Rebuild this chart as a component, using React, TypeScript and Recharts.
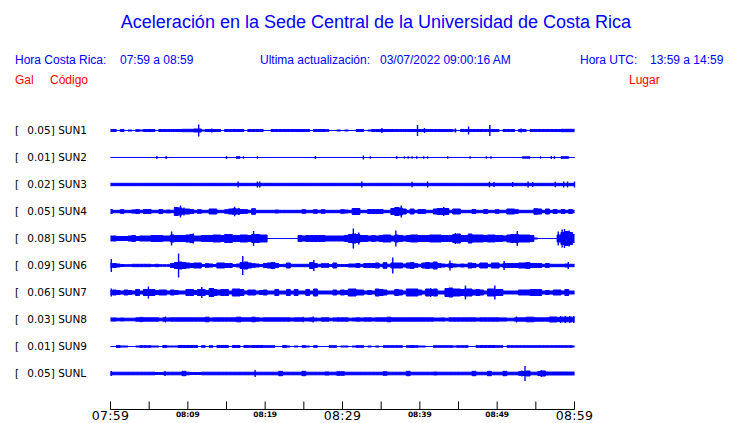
import React from 'react';
import { ComposedChart, Area, Scatter, ErrorBar, XAxis, YAxis } from 'recharts';

const CODES = ['SUN1', 'SUN2', 'SUN3', 'SUN4', 'SUN5', 'SUN6', 'SUN7', 'SUN8', 'SUN9', 'SUNL'];
const GAINS = ['0.05', '0.01', '0.02', '0.05', '0.08', '0.09', '0.06', '0.03', '0.01', '0.05'];
const PLACES = ['CIMAR', 'Ingenieria P01', 'Ingenieria P06', 'EBCI', 'Rectoria', 'Agroalimentarias', 'Archivo', 'Electrica P06', 'Electrica P01', 'LANAMME-CTT'];
const TICK_MINUTES = [0, 5, 10, 15, 20, 25, 30, 35, 40, 45, 50, 55, 60];
const LABELED_MINUTES = [0, 10, 20, 30, 40, 50, 60];
const TICK_LABELS = ['07:59', '08:09', '08:19', '08:29', '08:39', '08:49', '08:59'];
const MAJOR_LABELS = ['07:59', '08:29', '08:59'];
const SAMPLE_MIN = 0.5;

// half-amplitude envelopes (pixels) every 0.5 min
const SUN1 = [1,1,0,1,0,0.5,0,0.8,0.5,1, 1,1,0,1,1,1,1,1,1,1.2, 1.2,1.2,1.5,1.5,0.5,1,1,1,1,0, 1,1,1,1,1,0,1,1,1,1, 0,0,1,1,1,1,1,1,1,1, 1,1,0,1,1,1,0.8,0,0,0.5, 0,0.5,0,0,1,1,0,0.5,1,1, 1,1,1,1,1,1,1,1,1,1, 1,1,1,1,1,1,1,1,1,0.5, 0,1,1,1,1,1,1,1,1,1, 1,0,1,1,1,0,1,1,0,1, 1,1,1,1,1,1,1,1.2,1.2,1.2,1.2];
const SUN2 = [0,0,0,0,0,0,0,0,0,0, 0,0,0,0,0,0,0,0,0,0, 0,0,0,0,0,0,0,0,0,0, 0,0,0,0.8,0,0,0,0,0,0, 0,0,0,0,0,0,0,0,0,0, 0,0,0,0,0,0,0,0,0,0, 0,0,0,0,0,0,0,0,0,0, 0,0,0,0,0,0,0,0,0,0, 0,0,0,0,0,0,0,0,0,0, 0,0,0,0,0,0,0,0,0,0, 0,0,0,0,0,0,0,0.7,0.7,0, 0,0,0,0,0,0,0,0.8,0.8,0,0];
const SUN3 = [1.2,1.2,1.2,1.2,1.2,1.2,1.2,1.2,1.2,1.2, 1.2,1.2,1.2,1.2,1.2,1.2,1.2,1.2,1.2,1.2, 1.2,1.2,1.2,1.2,1.2,1.2,1.2,1.2,1.2,1.2, 1.2,1.2,1.2,1.2,1.2,1.2,1.2,1.2,1.2,1.2, 1.2,1.2,1.2,1.2,1.2,1.2,1.2,1.2,1.2,1.2, 1.2,1.2,1.2,1.2,1.2,1.2,1.2,1.2,1.2,1.2, 1.2,1.2,1.2,1.2,1.2,1.2,1.2,1.2,1.2,1.2, 1.2,1.2,1.2,1.2,1.2,1.2,1.2,1.2,1.2,1.2, 1.2,1.2,1.2,1.2,1.2,1.2,1.2,1.2,1.2,1.2, 1.2,1.2,1.2,1.2,1.2,1.2,1.2,1.2,1.2,1.2, 1.2,1.2,1.2,1.2,1.2,1.2,1.2,1.2,1.2,1.2, 1.2,1.2,1.2,1.2,1.2,1.2,1.2,1.2,1.2,1.2,1.2];
const SUN4 = [2,1.2,1.2,1.8,1.2,1.2,1.6,2,1.2,2, 2,1.2,1.2,2,1.2,1.5,1.2,4,3.5,2.5, 2.5,2,1.2,1.8,1.2,1.2,2.5,2.5,1.2,1.2, 1.8,2.5,2.8,2.5,2,1.8,1.2,2.8,1.2,1.2, 1.2,1.2,1.2,1.5,1.2,1.2,1.2,1.2,1.2,1.2, 1.8,1.2,1.2,1.8,1.2,1.8,1.2,1.2,1.2,1.2, 1.8,1.5,1.2,3,3,1.2,1.2,2,2,2, 2,1.2,1.2,3,4,3.5,2.5,1.2,2.5,1.2, 2,2,1.2,1.2,2.5,3,3,3,1.2,2.5, 2.5,1.2,1.2,1.2,2,1.2,1.2,2,1.2,1.2, 1.8,1.2,1.2,2.5,2.5,1.8,1.2,1.2,1.2,1.2, 2.8,2.5,1.2,2.5,1.2,2,1.2,2,1.2,2,1.2];
const SUN5 = [2.5,2.5,2,2,2,2.5,3,2,2.5,2.5, 2.5,3,3,3,2.5,2.5,3.5,3,3,3, 3.5,4,2.5,2.5,3,3,3,3.5,3.5,3, 4,4,3,3,3.5,3.5,3,4,4,3.5, 3.5,0,0,0,0,0,0,0,0,3, 2.5,3,3,3,3,3,2.5,2.5,2.5,2.5, 2.5,3,4,4.5,4,3,3,2.5,3,2.5, 3,3.5,3.5,2.5,3.5,3,2.5,3,3.5,3.5, 3,3,3,3.5,3.5,3.5,3,3,3,4, 4.5,3,3,4.5,3.5,3.5,3.5,3,3.5,3.5, 3,3,2.5,3.5,4,4,3.5,3.5,3.5,3, 0.5,0,0,0,0,0,3.5,6,7,6,4];
const SUN6 = [2,2,1.5,1,0.8,0.8,1.2,1.2,1.2,1.2, 1.2,0.8,1.2,0.8,0.8,0.8,2,3,3.5,3, 2.5,2,2.5,2.5,1,1.8,1.5,1,2.5,2.5, 2,2,1,1.5,3,3.5,2.5,1.8,1.5,1, 2,2.5,3,2,1,1.2,2.5,1.2,1.2,1.2, 1.2,1.2,3,2,1.2,1.8,1.8,1,2.5,1, 1,1,1.5,1.5,2,1.2,2,2,2,2.5, 1.2,2.8,1.2,2.5,2.5,2.5,1.5,2.5,3,1.8, 1.2,2.5,3,2.5,3.5,2,1.5,1.2,2,1.5, 1.2,1.5,1.2,2.5,2,1.2,2.5,2.5,1.2,2.5, 2.5,1.2,2,2,2,2,2.5,2.5,3,2, 2,2,1.2,2,1.2,1.2,1.2,1.2,1.5,1.2,1.2];
const SUN7 = [2,2.5,2,1.5,2.5,2,1.5,3,1.5,3, 3,3,2,2.5,2.5,1.5,2.5,2,1.5,1.5, 3,3,2,3,3,2,4,3,2.5,3, 3,1.5,3.5,3.5,3,1.5,2.5,2.5,1.5,2, 2.5,1.5,1.5,3,1.5,1.5,3,1.5,3,1.5, 1.5,3,1.5,3.5,1.5,1.5,1.5,1.5,2.5,1.5, 2.5,2,3.5,3.5,2.5,2.5,1.5,2,1.5,3.5, 3,2.5,1.5,1.5,3,2.5,1.5,3.5,3.5,3.5, 2.5,1.5,3.5,3,3.5,1.5,1.5,4,4.5,3.5, 3.5,3,3.5,3.5,2.5,3,2.5,1.5,3.5,3.5, 3,3,1.5,1.5,1.5,1.5,2.5,2.5,2.5,3, 3,3,1.5,2,1.5,2.5,2.5,1.5,3,1.5,1.5];
const SUN8 = [1.6,1.6,1.3,1.5,1.3,1.3,1.3,1.7,2.1,1.7, 1.7,1.7,1.7,1.3,1.7,1.6,1.7,1.7,1.7,1.7, 1.7,1.7,1.7,1.7,1.7,2.3,1.5,1.7,1.7,1.7, 1.7,1.7,1.7,2.3,1.7,1.7,1.7,2.3,1.7,1.5, 1.7,1.7,1.7,1.7,1.7,1.7,1.7,1.5,1.7,1.7, 1.5,1.5,1.7,1.5,1.3,1.7,1.7,1.3,1.6,1.7, 1.7,1.7,1.3,1.5,1.7,1.5,1.7,1.7,1.5,1.7, 1.7,1.7,2.3,1.7,1.7,1.7,1.7,1.7,1.7,1.7, 1.7,1.7,1.7,1.7,1.5,1.5,1.6,1.3,1.7,1.7, 1.7,1.7,1.7,1.7,1.7,1.5,1.7,1.7,1.7,1.7, 1.7,1.6,1.6,1.3,1.3,1.7,1.7,1.7,2.3,2.3, 1.7,1.7,1.7,1.7,2.5,2.5,2.1,2.3,2.3,2.3,2.3];
const SUN9 = [0,0,1,0.5,0.5,0,0,0.5,0.8,0.8, 0.8,0.5,0.5,0,1,0.5,0.5,0.5,1,1, 1,1,1,0,0.8,0,0.8,0,1,1, 1,0,1,1,0,1,0.8,1,1,1, 0.8,0.8,0.8,0,0,1,0.5,0,0.5,0, 0.8,0.5,0,0.8,0,0,0,0.8,0.8,0, 0.5,0.5,0,0.5,0.8,0.8,0,0.5,0,0.5, 0,0.8,0.8,0.8,0.8,0.8,0,0.8,1,0.8, 0.5,0.5,0,0,0.8,0.8,0.8,0.8,0.8,0.5, 0.8,0.8,0.8,0,0,0.8,1,1,1,1, 0.8,0.8,0,0.8,0.8,0.8,0.8,0.8,0.8,0.8, 0.8,0.8,0.8,0.8,0.8,0.8,0.8,0.8,0.8,0.8,0.5];
const SUNL = [1.5,1.3,1.3,1.3,1.3,1.3,1.3,1.3,1.3,1.3, 1.3,1.3,1,1,1.3,1.3,1.3,1.3,1.3,2.2, 1.3,1,1,1,1.3,1.3,1.3,1.3,1.3,1.3, 1.3,1.3,1.3,1.3,1.3,1.3,1.3,1.3,1.3,1.3, 1.3,1.3,1.3,1.3,2.2,1.3,1.3,1.3,1.3,1.3, 2.2,1.3,1.3,1.3,1.3,1.3,1.6,1.3,1.3,1.8, 1.8,1.3,1.3,1.3,1.3,1.3,1.3,1.3,1.3,1.3, 1.3,1.8,1.3,1.3,1.3,1.3,1.3,2.2,1.3,1.3, 1.3,1.3,1.3,1.3,1.5,1.3,1.3,1.3,1.3,1.3, 1.3,1.3,1.3,1.3,2.2,1.3,1.3,1.3,2.2,1.3, 1.3,1.3,2.2,1.3,1.3,1.3,1.8,2,2.5,1.3, 1.3,2,2.5,1.5,1.5,1.5,1.5,1.5,1.5,1.5,1.5];

// isolated spikes: [minute, half-amplitude px]
const SPK1 = [[11.4, 6], [13.1, 2], [35.1, 2.5], [39.7, 5.5], [40.6, 2.5], [44.6, 2], [46.3, 4], [49.05, 5.5], [53.1, 2]];
const SPK2 = [[6, 1.5], [7.2, 1.5], [15, 1.5], [17.2, 1.2], [19, 1.2], [26.5, 1.5], [32.7, 2], [33.6, 1.2], [37, 1.5], [38, 1.2], [38.5, 1.2], [39, 1.2], [39.6, 1.2], [40.5, 1.2], [41, 1.2], [43.6, 1.2], [46.5, 1.2], [48.6, 1.2], [49.2, 1.2], [55.6, 1.2], [57, 1.5], [57.4, 1.5]];
const SPK3 = [[16.5, 3], [19, 3], [19.3, 3], [32.5, 3], [39, 2.8], [41, 3], [49, 2.8], [49.6, 2.5], [52, 2.5], [54, 3], [54.6, 2.5], [57.5, 2.8], [58.6, 3], [59.1, 3], [60, 3]];
const SPK4 = [[8.6, 4.5], [9.05, 6], [9.5, 4], [16.05, 4.8], [16.6, 3.5], [37.2, 4.5], [37.6, 6], [43.1, 4.5], [43.6, 3.5]];
const SPK5 = [[7.9, 7], [10.7, 5], [18.5, 7.5], [31.4, 10], [32.1, 6], [36.9, 8], [44.6, 5.5], [52.6, 7.5], [57.9, 7], [58.4, 9], [58.7, 9.5], [59.3, 8]];
const SPK6 = [[0.1, 6.5], [8.8, 12], [17.1, 9.5], [26.3, 5.5], [36.5, 8], [43.9, 5], [50.9, 4.5], [59.2, 3.5]];
const SPK7 = [[0.1, 4], [4.9, 6], [11.8, 5.5], [13.3, 4.5], [41.4, 4.5], [45.9, 7], [49.7, 7]];
const SPK8 = [[7.1, 3], [16.8, 2.8], [24.9, 2.8], [26.2, 3], [52.5, 3], [58.2, 3.5], [58.8, 3.5], [59.4, 3.5], [59.9, 3.5]];
const SPK9: number[][] = [];
const SPKL = [[0.1, 2.5], [7.05, 2.5], [18.7, 3.5], [53.2, 3], [53.6, 7.5], [55.7, 3.5]];

const TRACES = [SUN1, SUN2, SUN3, SUN4, SUN5, SUN6, SUN7, SUN8, SUN9, SUNL];
const SPIKES = [SPK1, SPK2, SPK3, SPK4, SPK5, SPK6, SPK7, SPK8, SPK9, SPKL];
const N = TRACES.length;
const PX_PER_SLOT = 27;

const data = SUN1.map((_, k) => {
  const row: Record<string, any> = { t: k * SAMPLE_MIN };
  TRACES.forEach((amps, i) => {
    const c = N - i;
    const h = amps[k] / PX_PER_SLOT;
    row[CODES[i]] = [c - h, c + h];
  });
  return row;
});

const spikeData: { t: number; y: number; err: number }[] = [];
SPIKES.forEach((list, i) => {
  list.forEach(([t, a]) => spikeData.push({ t, y: N - i, err: a / PX_PER_SLOT }));
});

const BLUE = '#0000ff';
const RED = '#ff0000';
const SANS = '"Liberation Sans", Arial, sans-serif';
const DEJAVU = '"DejaVu Sans", sans-serif';

const XTick = (props: any) => {
  const { x, y, payload } = props;
  const v = payload.value;
  const li = LABELED_MINUTES.indexOf(v);
  const label = li >= 0 ? TICK_LABELS[li] : null;
  const major = label !== null && MAJOR_LABELS.includes(label);
  return (
    <g>
      <line x1={x} x2={x} y1={y - 8} y2={y} stroke="#000" strokeWidth={1} />
      {label && (
        <text
          x={x}
          y={major ? y + 10 : y + 7.5}
          textAnchor="middle"
          fontFamily={DEJAVU}
          fontSize={major ? 12.5 : 7.5}
          fontWeight={major ? 'normal' : 'bold'}
          letterSpacing={major ? 0.3 : 0}
          fill="#000"
        >
          {label}
        </text>
      )}
    </g>
  );
};

const LeftTick = (props: any) => {
  const { y, payload } = props;
  const i = N - payload.value;
  return (
    <g>
      <text x={15} y={y} dy="0.36em" fontFamily={DEJAVU} fontSize={10.5} fill="#000">[</text>
      <text x={27.3} y={y} dy="0.36em" fontFamily={DEJAVU} fontSize={10.5} fill="#000">
        {GAINS[i]}] {CODES[i]}
      </text>
    </g>
  );
};

const RightTick = (props: any) => {
  const { x, y, payload } = props;
  const i = N - payload.value;
  return (
    <text x={x + 13} y={y} dy="0.36em" fontFamily={DEJAVU} fontSize={10.5} fill="#000">
      {PLACES[i]}
    </text>
  );
};

const NoDot = () => <g />;

const SLOT_TICKS = CODES.map((_, i) => N - i);

export default function App() {
  return (
    <div style={{ position: 'absolute', left: 0, top: 0, width: 740, height: 423, background: '#fff' }}>
      <ComposedChart
        width={740}
        height={423}
        data={data}
        margin={{ top: 94.5, right: 0.5, bottom: 0, left: 0.5 }}
      >
        <XAxis
          dataKey="t"
          type="number"
          domain={[0, 60]}
          ticks={TICK_MINUTES}
          interval={0}
          height={13.5}
          tickSize={0}
          tickMargin={0}
          tickLine={false}
          axisLine={{ stroke: '#000', strokeWidth: 1 }}
          tick={<XTick />}
        />
        <YAxis
          yAxisId="left"
          type="number"
          domain={[-1 / 3, 34 / 3]}
          ticks={SLOT_TICKS}
          interval={0}
          width={110}
          axisLine={false}
          tickLine={false}
          tickSize={0}
          tickMargin={0}
          tick={<LeftTick />}
        />
        <YAxis
          yAxisId="right"
          orientation="right"
          type="number"
          domain={[-1 / 3, 34 / 3]}
          ticks={SLOT_TICKS}
          interval={0}
          width={165}
          axisLine={false}
          tickLine={false}
          tickSize={0}
          tickMargin={0}
          tick={<RightTick />}
        />
        {CODES.map((code) => (
          <Area
            key={code}
            yAxisId="left"
            dataKey={code}
            type="step"
            stroke={BLUE}
            strokeWidth={1}
            fill={BLUE}
            fillOpacity={1}
            dot={false}
            activeDot={false}
            isAnimationActive={false}
          />
        ))}
        <Scatter
          yAxisId="left"
          data={spikeData}
          dataKey="y"
          shape={<NoDot />}
          isAnimationActive={false}
        >
          <ErrorBar dataKey="err" direction="y" width={0} stroke={BLUE} strokeWidth={1.4} isAnimationActive={false} />
        </Scatter>
      </ComposedChart>
      <svg
        width={740}
        height={94}
        style={{ position: 'absolute', left: 0, top: 0, pointerEvents: 'none' }}
      >
        <text x={376} y={28} textAnchor="middle" fontFamily={SANS} fontSize={18} fill={BLUE}>
          Aceleración en la Sede Central de la Universidad de Costa Rica
        </text>
        <text x={15} y={64} fontFamily={SANS} fontSize={12} fill={BLUE}>Hora Costa Rica:</text>
        <text x={120} y={64} fontFamily={SANS} fontSize={12} fill={BLUE}>07:59 a 08:59</text>
        <text x={260} y={64} fontFamily={SANS} fontSize={12} fill={BLUE}>Ultima actualización:</text>
        <text x={380} y={64} fontFamily={SANS} fontSize={12} fill={BLUE}>03/07/2022 09:00:16 AM</text>
        <text x={580} y={64} fontFamily={SANS} fontSize={12} fill={BLUE}>Hora UTC:</text>
        <text x={650} y={64} fontFamily={SANS} fontSize={12} fill={BLUE}>13:59 a 14:59</text>
        <text x={15} y={84} fontFamily={SANS} fontSize={12} fill={RED}>Gal</text>
        <text x={50} y={84} fontFamily={SANS} fontSize={12} fill={RED}>Código</text>
        <text x={629} y={84} fontFamily={SANS} fontSize={12} fill={RED}>Lugar</text>
      </svg>
    </div>
  );
}
